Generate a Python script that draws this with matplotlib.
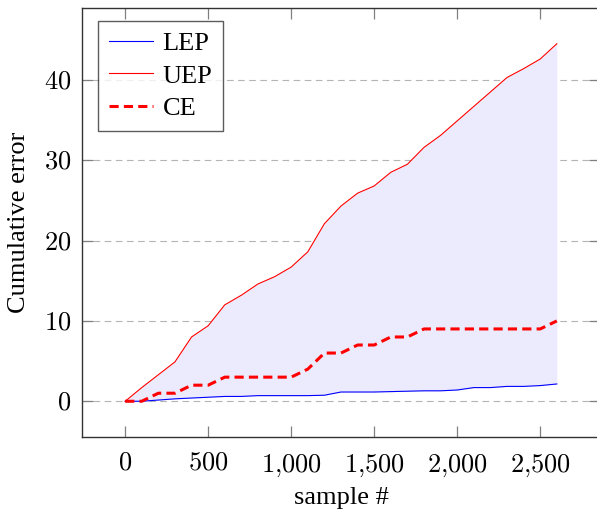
import matplotlib.pyplot as plt
from matplotlib.ticker import FuncFormatter

samples = [0, 100, 200, 300, 400, 500, 600, 700, 800, 900, 1000, 1100, 1200, 1300,
           1400, 1500, 1600, 1700, 1800, 1900, 2000, 2100, 2200, 2300, 2400, 2500, 2600]
lep = [0, 0, 0.15, 0.3, 0.4, 0.5, 0.6, 0.6, 0.7, 0.7, 0.7, 0.7, 0.75, 1.15,
       1.15, 1.15, 1.2, 1.25, 1.3, 1.3, 1.4, 1.7, 1.7, 1.85, 1.85, 1.95, 2.15]
uep = [0, 1.7, 3.3, 4.9, 8.0, 9.4, 12.0, 13.2, 14.6, 15.5, 16.7, 18.6, 22.1, 24.3,
       25.9, 26.8, 28.5, 29.5, 31.6, 33.1, 34.9, 36.7, 38.5, 40.3, 41.4, 42.6, 44.5]
ce = [0, 0, 1, 1, 2, 2, 3, 3, 3, 3, 3, 4, 6, 6,
      7, 7, 8, 8, 9, 9, 9, 9, 9, 9, 9, 9, 10]

x_ticks = [0, 500, 1000, 1500, 2000, 2500]
y_ticks = [0, 10, 20, 30, 40]

plt.rcParams["font.family"] = ["Liberation Serif", "DejaVu Serif"]
plt.rcParams["mathtext.fontset"] = "cm"

fig = plt.figure(figsize=(5.97, 5.12), dpi=100)
ax = fig.add_axes([82 / 597, 75 / 512, (600 - 82) / 597, (437 - 8) / 512])

ax.fill_between(samples, lep, uep, color="#ebebfd", linewidth=0, zorder=1)
ax.plot(samples, lep, color="blue", linewidth=0.8, label="LEP", zorder=3)
ax.plot(samples, uep, color="red", linewidth=0.8, label="UEP", zorder=3)
ax.plot(samples, ce, color="red", linewidth=2.2, dashes=(3, 1.7), label="CE", zorder=4)

ax.set_xlim(-260, 2860)
ax.set_ylim(-4.45, 48.95)
ax.set_xticks(x_ticks)
ax.set_yticks(y_ticks)
fmt = FuncFormatter(lambda v, pos: "$" + f"{int(v):,}".replace(",", "{,}") + "$")
ax.xaxis.set_major_formatter(fmt)
ax.yaxis.set_major_formatter(fmt)
ax.tick_params(direction="in", length=8, width=0.9, color="#808080",
               labelsize=19, top=True, right=True)
ax.tick_params(axis="x", pad=11)
ax.tick_params(axis="y", pad=8)
ax.grid(axis="y", color="#b4b4b4", linestyle=(0, (6, 4)), linewidth=0.8, zorder=0)
ax.set_axisbelow(True)
for s in ax.spines.values():
    s.set_color("#333333")
    s.set_linewidth(1.0)

ax.set_xlabel("sample #", fontsize=19, labelpad=6)
ax.set_ylabel("Cumulative error", fontsize=19, labelpad=10)

leg = ax.legend(loc="upper left", fontsize=19, frameon=True, fancybox=False,
                edgecolor="#333333", handlelength=1.7, handletextpad=0.35,
                borderpad=0.4, labelspacing=0.35, borderaxespad=0,
                bbox_to_anchor=(16 / 518, 1 - 13 / 429))
leg.get_frame().set_linewidth(1.0)

fig.savefig("out.png", dpi=100)
